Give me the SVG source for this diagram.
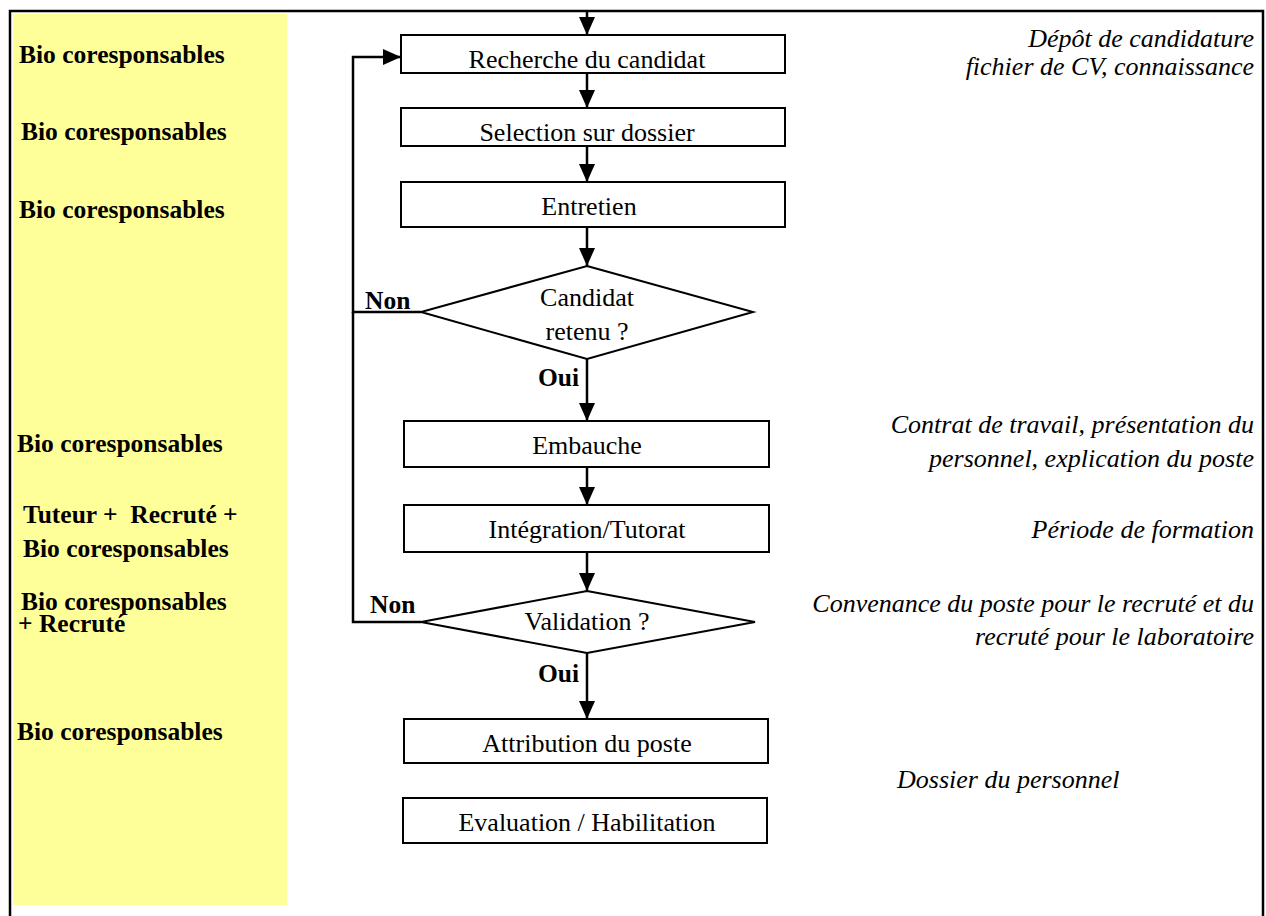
<svg xmlns="http://www.w3.org/2000/svg" width="1266" height="916" viewBox="0 0 1266 916">
<style>
.box{fill:#fff;stroke:#000;stroke-width:2}
.t{font-family:"Liberation Serif","Times New Roman",serif;font-size:26px;fill:#000}
.c{text-anchor:middle}
.b{font-weight:bold;font-size:25.5px}
.i{font-style:italic;font-size:26px}
.r{text-anchor:end}
.con{fill:none;stroke:#000;stroke-width:2.5}
</style>
<defs>
<marker id="ah" viewBox="0 0 18 16" refX="18" refY="8" markerWidth="18" markerHeight="16" markerUnits="userSpaceOnUse" orient="auto">
<path d="M0,0 L18,8 L0,16 z" fill="#000"/>
</marker>
</defs>
<rect x="0" y="0" width="1266" height="916" fill="#fff"/>
<rect id="lane" x="13" y="14" width="274" height="891" fill="#FFFF99"/>
<path id="frame" d="M10,920 V11 H1263 V920" fill="none" stroke="#000" stroke-width="2.5"/>

<g id="roles" class="t b">
<text x="19" y="63">Bio coresponsables</text>
<text x="21" y="140">Bio coresponsables</text>
<text x="19" y="218">Bio coresponsables</text>
<text x="17" y="452">Bio coresponsables</text>
<text x="23" y="523" xml:space="preserve">Tuteur +  Recruté +</text>
<text x="23" y="557">Bio coresponsables</text>
<text x="21" y="610">Bio coresponsables</text>
<text x="18" y="632">+ Recruté</text>
<text x="17" y="740">Bio coresponsables</text>
</g>

<g id="connectors" class="con">
<path d="M587,11 V35" marker-end="url(#ah)"/>
<path d="M587,73 V108" marker-end="url(#ah)"/>
<path d="M587,146 V182" marker-end="url(#ah)"/>
<path d="M587,227 V266" marker-end="url(#ah)"/>
<path d="M587,359 V421" marker-end="url(#ah)"/>
<path d="M587,467 V505" marker-end="url(#ah)"/>
<path d="M587,552 V591" marker-end="url(#ah)"/>
<path d="M587,653 V719" marker-end="url(#ah)"/>
<path d="M421,312 H353 V57 H401" marker-end="url(#ah)"/>
<path d="M421,622 H353 V312"/>
</g>

<g id="recherche"><rect class="box" x="401" y="35" width="384" height="38"/><text class="t c" x="587" y="68">Recherche du candidat</text></g>
<g id="selection"><rect class="box" x="401" y="108" width="384" height="38"/><text class="t c" x="587" y="141">Selection sur dossier</text></g>
<g id="entretien"><rect class="box" x="401" y="182" width="384" height="45"/><text class="t c" x="589" y="215">Entretien</text></g>
<g id="candidat"><polygon class="box" points="587,266 753,312 587,359 421,312"/><text class="t c" x="587" y="306">Candidat</text><text class="t c" x="587" y="340">retenu ?</text></g>
<g id="embauche"><rect class="box" x="404" y="421" width="365" height="46"/><text class="t c" x="587" y="454">Embauche</text></g>
<g id="integration"><rect class="box" x="404" y="505" width="365" height="47"/><text class="t c" x="587" y="538">Intégration/Tutorat</text></g>
<g id="validation"><polygon class="box" points="587,591 755,622 587,653 421,622"/><text class="t c" x="587" y="630">Validation ?</text></g>
<g id="attribution"><rect class="box" x="404" y="719" width="364" height="44"/><text class="t c" x="587" y="752">Attribution du poste</text></g>
<g id="evaluation"><rect class="box" x="403" y="798" width="364" height="45"/><text class="t c" x="587" y="831">Evaluation / Habilitation</text></g>

<g id="labels" class="t b">
<text x="365" y="309">Non</text>
<text x="538" y="386">Oui</text>
<text x="370" y="613">Non</text>
<text x="538" y="682">Oui</text>
</g>

<g id="notes" class="t i">
<text class="r" x="1254" y="47">Dépôt de candidature</text>
<text class="r" x="1254" y="75">fichier de CV, connaissance</text>
<text class="r" x="1254" y="433">Contrat de travail, présentation du</text>
<text class="r" x="1254" y="467">personnel, explication du poste</text>
<text class="r" x="1254" y="538">Période de formation</text>
<text class="r" x="1254" y="612">Convenance du poste pour le recruté et du</text>
<text class="r" x="1254" y="645">recruté pour le laboratoire</text>
<text x="897" y="788">Dossier du personnel</text>
</g>
</svg>
